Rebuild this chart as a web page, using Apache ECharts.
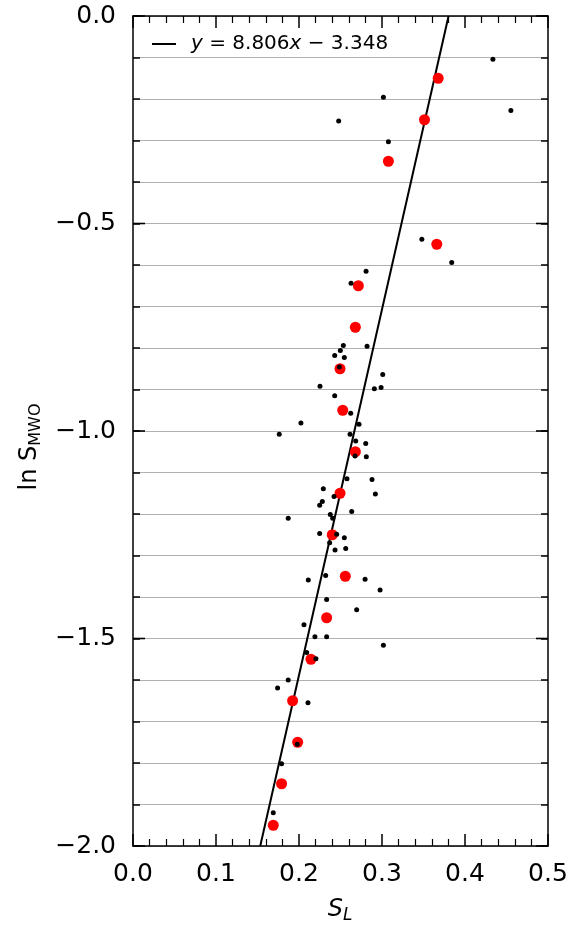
<!DOCTYPE html>
<html>
<head>
<meta charset="utf-8">
<script src="https://cdn.jsdelivr.net/npm/echarts@6/dist/echarts.min.js"></script>
<style>html,body{margin:0;padding:0;background:#fff;}#c{width:570px;height:927px;}</style>
</head>
<body>
<div id="c"></div>
<script>
// Individual stars (black dots)
var starsX = [0.4336,0.3017,0.2478,0.4553,0.3077,
  0.348,0.384,0.2808,0.2627,0.2534,0.282,0.2498,0.243,0.2546,0.2486,0.3009,0.2253,0.2908,0.2989,0.243,0.2623,0.2023,0.2723,0.1762,0.2615,
  0.2683,0.2804,0.2675,0.2811,0.2578,0.288,0.2293,0.292,0.2422,0.2281,0.2249,0.2635,0.2377,0.2406,0.187,0.2249,0.2454,0.2546,0.2369,0.2434,0.2563,0.2321,0.2112,0.2796,0.2977,0.2333,0.2695,0.206,0.2192,0.2333,0.3017,
  0.2092,0.2204,0.187,0.1742,0.2108,0.1979,0.179,0.169];
var starsY = [-0.104,-0.196,-0.253,-0.228,-0.303,
  -0.538,-0.594,-0.615,-0.644,-0.794,-0.796,-0.806,-0.818,-0.823,-0.846,-0.864,-0.892,-0.898,-0.895,-0.915,-0.957,-0.981,-0.984,-1.008,-1.008,
  -1.024,-1.030,-1.060,-1.062,-1.115,-1.117,-1.139,-1.152,-1.158,-1.170,-1.179,-1.194,-1.201,-1.210,-1.210,-1.247,-1.249,-1.257,-1.269,-1.287,-1.283,-1.348,-1.359,-1.357,-1.383,-1.406,-1.431,-1.467,-1.496,-1.496,-1.516,
  -1.534,-1.549,-1.600,-1.619,-1.655,-1.755,-1.802,-1.920];
// Binned means (red dots)
var binX = [0.3677,0.3512,0.3077,0.366,0.2715,0.2679,0.2494,0.2527,0.2679,0.2494,0.2401,0.2558,0.2333,0.2144,0.1923,0.1984,0.179,0.169];
var binY = [-0.15,-0.25,-0.35,-0.55,-0.65,-0.75,-0.85,-0.95,-1.05,-1.15,-1.25,-1.35,-1.45,-1.55,-1.65,-1.75,-1.85,-1.95];
// Fit line y = 8.806x - 3.348 (end points)
var fitX = [0.1533, 0.3802];
var fitY = [-2.0, 0.0];
// Axis ticks
var xTicks = [0.0,0.1,0.2,0.3,0.4,0.5];
var yTicks = [-2.0,-1.5,-1.0,-0.5,0.0];

var FONT = 'DejaVu Sans';
var X0 = xTicks[0], X1 = xTicks[xTicks.length-1], Y0 = yTicks[0], Y1 = yTicks[yTicks.length-1];
function zip(a,b){return a.map(function(v,i){return [v,b[i]];});}
function mkLine(){return {show:true, onZero:false, lineStyle:{color:'#000', width:1.5}};}
function mkTick(len){return {show:true, inside:true, length:len, lineStyle:{color:'#000', width:1.5}};}
function isMajorY(v){return Math.abs(v*2 - Math.round(v*2)) < 1e-6;}

// major y ticks (longer) on left and right: [x, y, side]
var yMajorData = [];
yTicks.forEach(function(v){yMajorData.push([X0,v,0]); yMajorData.push([X1,v,1]);});
function renderMajor(params, api){
  var p = api.coord([api.value(0), api.value(1)]);
  var x2 = api.value(2) === 0 ? p[0] + 12 : p[0] - 12;
  return {type:'line', shape:{x1:p[0], y1:p[1], x2:x2, y2:p[1]},
    style:{stroke:'#000', lineWidth:1.6}};
}

var chart = echarts.init(document.getElementById('c'));
chart.setOption({
  animation:false,
  grid:{left:133, right:22, top:16, bottom:81, outerBoundsMode:'none'},
  graphic:[
    {type:'line', shape:{x1:152, y1:44, x2:176, y2:44}, style:{stroke:'#000', lineWidth:2}, z:20},
    {type:'text', x:191, y:44, z:20, style:{
      text:'{i|y} = 8.806{i|x} \u2212 3.348', fontFamily:FONT, fontSize:20, fill:'#000',
      verticalAlign:'middle', align:'left',
      rich:{i:{fontStyle:'italic', fontFamily:FONT, fontSize:20, fill:'#000'}}}},
    {type:'text', x:340, y:910, z:20, style:{
      text:'{s|S}{sub|L}', align:'center', verticalAlign:'middle',
      rich:{s:{fontFamily:FONT, fontStyle:'italic', fontSize:24, fill:'#000'},
            sub:{fontFamily:FONT, fontStyle:'italic', fontSize:17, fill:'#000', padding:[12,0,0,0]}}}},
    {type:'text', x:30, y:447, rotation:Math.PI/2, z:20, style:{
      text:'ln {s|S}{sub|MWO}', fontFamily:FONT, fontSize:24, fill:'#000',
      align:'center', verticalAlign:'middle',
      rich:{s:{fontFamily:FONT, fontSize:24, fill:'#000'},
            sub:{fontFamily:FONT, fontSize:16, fill:'#000', padding:[12,0,0,0]}}}}
  ],
  xAxis:[{
    type:'value', min:X0, max:X1, interval:0.1,
    axisLine:mkLine(), axisTick:mkTick(12),
    minorTick:{show:true, splitNumber:5, length:7, lineStyle:{color:'#000', width:1.2}},
    splitLine:{show:false},
    axisLabel:{fontFamily:FONT, fontSize:25, color:'#000', margin:16,
      formatter:function(v){return v.toFixed(1);}}
  },{
    type:'value', position:'top', min:X0, max:X1, interval:0.1,
    axisLine:mkLine(), axisTick:mkTick(12),
    minorTick:{show:true, splitNumber:5, length:7, lineStyle:{color:'#000', width:1.2}},
    splitLine:{show:false}, axisLabel:{show:false}
  }],
  yAxis:[{
    type:'value', min:Y0, max:Y1, interval:0.1,
    axisLine:mkLine(), axisTick:mkTick(7),
    splitLine:{show:true, lineStyle:{color:'#b0b0b0', width:1}},
    axisLabel:{fontFamily:FONT, fontSize:25, color:'#000', margin:17,
      formatter:function(v){
        if (!isMajorY(v)) return '';
        return (v<0?'\u2212':'')+Math.abs(v).toFixed(1);}}
  },{
    type:'value', position:'right', min:Y0, max:Y1, interval:0.1,
    axisLine:mkLine(), axisTick:mkTick(7),
    splitLine:{show:false}, axisLabel:{show:false}
  }],
  series:[
    {name:'fit', type:'line', data:zip(fitX,fitY), showSymbol:false, symbol:'none',
     lineStyle:{color:'#000', width:2}, itemStyle:{color:'#000'}, z:2},
    {name:'bins', type:'scatter', data:zip(binX,binY), symbolSize:11,
     itemStyle:{color:'#ff0000', opacity:1}, z:3},
    {name:'stars', type:'scatter', data:zip(starsX,starsY), symbolSize:5,
     itemStyle:{color:'#000', opacity:1}, z:4},
    {name:'majorTicks', type:'custom', data:yMajorData, renderItem:renderMajor, clip:false,
     silent:true, z:10}
  ]
});
</script>
</body>
</html>
